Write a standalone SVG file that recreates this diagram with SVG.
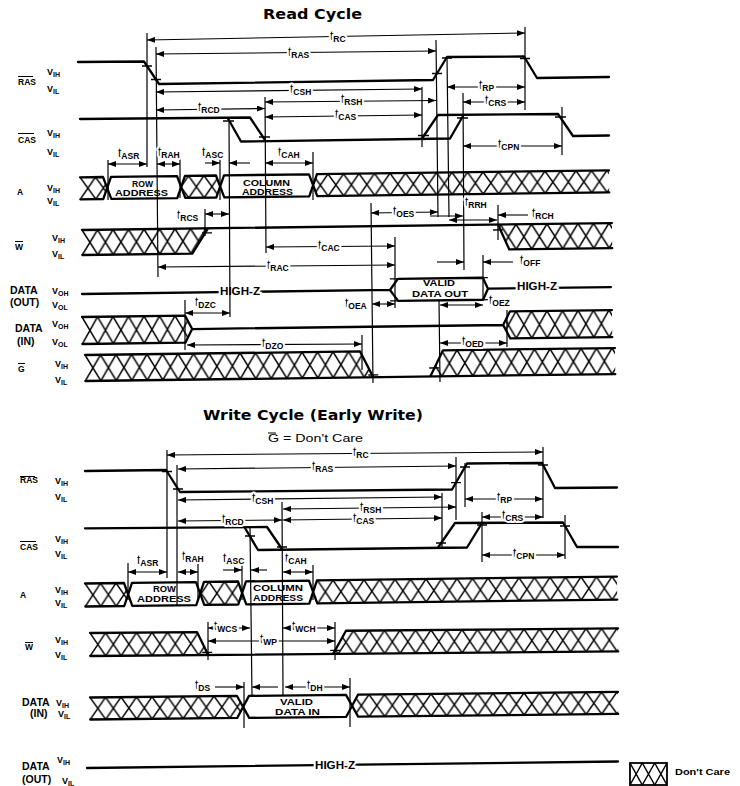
<svg xmlns="http://www.w3.org/2000/svg" width="740" height="786" viewBox="0 0 740 786">
<defs>
<style>
text{font-family:"Liberation Sans",Arial,Helvetica,sans-serif;fill:#000}
.wf{fill:none;stroke:#000;stroke-width:2.3;stroke-linejoin:round;stroke-linecap:round}
.vl{fill:none;stroke:#000;stroke-width:1.2}
.db{fill:none;stroke:#000;stroke-width:1.1;marker-start:url(#ah);marker-end:url(#ah)}
.da{fill:none;stroke:#000;stroke-width:1.1;marker-end:url(#ah)}
.tk{fill:none;stroke:#000;stroke-width:1.3}
.ol{stroke:#000;stroke-width:1}
.sig{font-weight:bold;font-size:8.5px}
.dat{font-weight:bold;font-size:10.5px}
.v{font-weight:bold;font-size:9px}
.v tspan{font-size:7px}
.t{font-size:12px;stroke:#fff;stroke-width:4;stroke-linejoin:round;paint-order:stroke}
.t tspan{font-weight:bold;font-size:8.5px}
.bx{font-weight:bold;font-size:9px}
.hz{font-weight:bold;font-size:11px;stroke:#fff;stroke-width:4;paint-order:stroke}
.ttl{font-family:"DejaVu Sans","Liberation Sans",sans-serif;font-weight:bold;font-size:14px}
</style>
<marker id="ah" viewBox="0 0 8 6" refX="8" refY="3" markerWidth="8" markerHeight="6" markerUnits="userSpaceOnUse" orient="auto-start-reverse"><path d="M0,0L8,3L0,6z"/></marker>
<pattern id="x22" width="15.5" height="22" patternUnits="userSpaceOnUse"><path d="M0,0L15.5,22M15.5,0L0,22" stroke="#000" stroke-width="1.5" fill="none"/></pattern>
<pattern id="x23" width="15.5" height="23" patternUnits="userSpaceOnUse"><path d="M0,0L15.5,23M15.5,0L0,23" stroke="#000" stroke-width="1.5" fill="none"/></pattern>
<pattern id="x25" width="15.5" height="25" patternUnits="userSpaceOnUse"><path d="M0,0L15.5,25M15.5,0L0,25" stroke="#000" stroke-width="1.5" fill="none"/></pattern>
<pattern id="x26" width="15.5" height="26" patternUnits="userSpaceOnUse"><path d="M0,0L15.5,26M15.5,0L0,26" stroke="#000" stroke-width="1.5" fill="none"/></pattern>
<pattern id="x27" width="15.5" height="27" patternUnits="userSpaceOnUse"><path d="M0,0L15.5,27M15.5,0L0,27" stroke="#000" stroke-width="1.5" fill="none"/></pattern>
</defs>
<rect width="740" height="786" fill="#fff"/>

<!-- ================= READ CYCLE ================= -->
<text class="ttl" x="263" y="19" textLength="99" lengthAdjust="spacingAndGlyphs">Read Cycle</text>

<g id="r-labels">
<text class="sig" x="18" y="85">RAS</text><path class="ol" d="M18,76.5H33"/>
<text class="v" x="47" y="75">V<tspan dy="2">IH</tspan></text>
<text class="v" x="47" y="92">V<tspan dy="2">IL</tspan></text>
<text class="sig" x="18" y="143">CAS</text><path class="ol" d="M18,133.5H34"/>
<text class="v" x="47" y="136">V<tspan dy="2">IH</tspan></text>
<text class="v" x="47" y="155">V<tspan dy="2">IL</tspan></text>
<text class="sig" x="17" y="195">A</text>
<text class="v" x="47" y="191">V<tspan dy="2">IH</tspan></text>
<text class="v" x="47" y="204">V<tspan dy="2">IL</tspan></text>
<text class="sig" x="15" y="250">W</text><path class="ol" d="M15,241.5H23"/>
<text class="v" x="52" y="241">V<tspan dy="2">IH</tspan></text>
<text class="v" x="52" y="257">V<tspan dy="2">IL</tspan></text>
<text class="dat" x="10" y="294">DATA</text>
<text class="dat" x="10" y="306">(OUT)</text>
<text class="v" x="52" y="294">V<tspan dy="2">OH</tspan></text>
<text class="v" x="52" y="308">V<tspan dy="2">OL</tspan></text>
<text class="dat" x="15" y="332">DATA</text>
<text class="dat" x="17" y="345">(IN)</text>
<text class="v" x="52" y="327">V<tspan dy="2">OH</tspan></text>
<text class="v" x="52" y="345">V<tspan dy="2">OL</tspan></text>
<text class="sig" x="18" y="372">G</text><path class="ol" d="M18,363.5H25"/>
<text class="v" x="55" y="367">V<tspan dy="2">IH</tspan></text>
<text class="v" x="55" y="383">V<tspan dy="2">IL</tspan></text>
</g>

<g id="r-RAS">
<path class="wf" d="M78,62 L144,61.5 L159,84 L433,80 L447,57 L524,56.5 L537,78 L609,77"/>
<path class="tk" d="M142,66h10M151,79.5h10M432,73.5h10M442,58h10M520,58.5h10"/>
</g>

<g id="r-CAS">
<path class="wf" d="M80,119 L250,117.5 L265,140"/>
<path class="wf" d="M228,118.5 L241,141.5 L450,138.5 L463,116"/>
<path class="wf" d="M422,138.5 L438,115 L558,114 L573,136 L609,135.5"/>
<path class="tk" d="M223,121h11M259,137h11M418,135.5h11M457,118h11M555,117h11"/>
</g>

<g id="r-A">
<g transform="translate(80,177.3) rotate(-0.75)">
<path fill="url(#x22)" d="M0,0L23,0L27,11L23,22L0,22Z M101,11L105,0L136,0L140,11L136,22L105,22Z M233,11L237,0L529,0L529,22L237,22Z"/>
<path class="wf" d="M0,0 23,0 31,22 97,22 105,0 136,0 144,22 229,22 237,0 529,0"/>
<path class="wf" d="M0,22 23,22 31,0 97,0 105,22 136,22 144,0 229,0 237,22 529,22"/>
</g>
<text class="bx" x="132" y="187" textLength="21" lengthAdjust="spacingAndGlyphs">ROW</text>
<text class="bx" x="115" y="196" textLength="53" lengthAdjust="spacingAndGlyphs">ADDRESS</text>
<text class="bx" x="243" y="186" textLength="47" lengthAdjust="spacingAndGlyphs">COLUMN</text>
<text class="bx" x="242" y="195" textLength="51" lengthAdjust="spacingAndGlyphs">ADDRESS</text>
</g>

<g id="r-W">
<g transform="translate(82,230) rotate(-0.75)">
<path fill="url(#x25)" d="M0,0L126,0L110,25L0,25Z M416,0L530,0L530,25L427,25Z"/>
<path class="wf" d="M0,0L530,0 M0,25L110,25L126,0 M416,0L427,25L530,25"/>
<path class="tk" d="M120,4.5h10M411,5.4h10"/>
</g>
</g>

<g id="r-DOUT">
<g transform="translate(82,294) rotate(-0.75)">
<path class="wf" d="M0,0L308,0L316,-11L401,-11L406,0L529,0 M308,0L316,11L401,11L406,0"/>
<path class="tk" d="M308,-11h10M308,11h10M396,-11h10M396,11h10"/>
</g>
<text class="hz" x="220" y="295" textLength="40" lengthAdjust="spacingAndGlyphs">HIGH-Z</text>
<text class="hz" x="517" y="290" textLength="40" lengthAdjust="spacingAndGlyphs">HIGH-Z</text>
<text class="bx" x="423" y="286" textLength="32" lengthAdjust="spacingAndGlyphs">VALID</text>
<text class="bx" x="412" y="297" textLength="56" lengthAdjust="spacingAndGlyphs">DATA OUT</text>
</g>

<g id="r-DIN">
<g transform="translate(82,317) rotate(-0.75)">
<path fill="url(#x27)" d="M0,0L103,0L110,13.5L103,27L0,27Z M421,13.5L428,0L530,0L530,27L428,27Z"/>
<path class="wf" d="M0,0L103,0L110,13.5L103,27L0,27 M110,13.5L421,13.5 M530,0L428,0L421,13.5L428,27L530,27"/>
</g>
</g>

<g id="r-G">
<g transform="translate(85,355) rotate(-0.75)">
<path fill="url(#x26)" d="M0,0L275,0L288,26L0,26Z M345,26L358,0L530,0L530,26Z"/>
<path class="wf" d="M0,0L275,0L288,26 M0,26L530,26 M345,26L358,0L530,0"/>
<path class="tk" d="M283,23.7h10M344,17.5h10"/>
</g>
</g>

<g id="r-timings">
<path class="vl" d="M147,33V167 M156,47L158,277 M108,160V200 M180,153V198 M220,158V200 M229,120L230,317 M265,97L266,253 M313,152V200 M422,87V147 M436,40L438,217 M447,57L449,217 M463,93L464,270 M498,205V240 M525,27V110 M562,107V155 M205,209V236 M371,203L373,383 M395,237V308 M439,300L440,382 M483,255V300 M185,300V350 M362,335V370 M507,310V347"/>
<path class="db" d="M147,40L525,33"/>
<path class="db" d="M156,54L436,51"/>
<path class="db" d="M156,92L422,89"/>
<path class="db" d="M265,102L436,100.5"/>
<path class="db" d="M265,117L422,115"/>
<path class="db" d="M156,110L265,108.5"/>
<path class="db" d="M447,87L525,87"/>
<path class="db" d="M463,102L525,102"/>
<path class="db" d="M463,146L562,146"/>
<path class="db" d="M108,164L147,164"/>
<path class="db" d="M157,164L180,164"/>
<path class="da" d="M205,163L220,163"/>
<path class="da" d="M250,163L229,163"/>
<path class="db" d="M265,163L313,163"/>
<path class="db" d="M205,214L229,214"/>
<path class="db" d="M266,247L395,246"/>
<path class="db" d="M158,267L395,265"/>
<path class="db" d="M371,213L438,212"/>
<path class="db" d="M449,220L497,220"/>
<path class="da" d="M430,216L463,216"/>
<path class="da" d="M528,215L498,215"/>
<path class="da" d="M437,262L464,262"/>
<path class="da" d="M513,262L483,262"/>
<path class="db" d="M372,304L395,304"/>
<path class="db" d="M440,305L483,305"/>
<path class="db" d="M440,343L507,343"/>
<path class="db" d="M185,313L230,313"/>
<path class="db" d="M187,345L362,344"/>
<text class="t" x="330" y="40">t<tspan dy="2">RC</tspan></text>
<text class="t" x="288" y="56">t<tspan dy="2">RAS</tspan></text>
<text class="t" x="290" y="93">t<tspan dy="2">CSH</tspan></text>
<text class="t" x="341" y="103">t<tspan dy="2">RSH</tspan></text>
<text class="t" x="335" y="118">t<tspan dy="2">CAS</tspan></text>
<text class="t" x="198" y="111">t<tspan dy="2">RCD</tspan></text>
<text class="t" x="479" y="89">t<tspan dy="2">RP</tspan></text>
<text class="t" x="485" y="104">t<tspan dy="2">CRS</tspan></text>
<text class="t" x="498" y="148">t<tspan dy="2">CPN</tspan></text>
<text class="t" x="118" y="157">t<tspan dy="2">ASR</tspan></text>
<text class="t" x="158" y="156">t<tspan dy="2">RAH</tspan></text>
<text class="t" x="202" y="156">t<tspan dy="2">ASC</tspan></text>
<text class="t" x="278" y="156">t<tspan dy="2">CAH</tspan></text>
<text class="t" x="177" y="219">t<tspan dy="2">RCS</tspan></text>
<text class="t" x="318" y="249">t<tspan dy="2">CAC</tspan></text>
<text class="t" x="267" y="269">t<tspan dy="2">RAC</tspan></text>
<text class="t" x="393" y="215">t<tspan dy="2">OES</tspan></text>
<text class="t" x="465" y="206">t<tspan dy="2">RRH</tspan></text>
<text class="t" x="532" y="217">t<tspan dy="2">RCH</tspan></text>
<text class="t" x="520" y="264">t<tspan dy="2">OFF</tspan></text>
<text class="t" x="345" y="307">t<tspan dy="2">OEA</tspan></text>
<text class="t" x="489" y="304">t<tspan dy="2">OEZ</tspan></text>
<text class="t" x="462" y="345">t<tspan dy="2">OED</tspan></text>
<text class="t" x="195" y="306">t<tspan dy="2">DZC</tspan></text>
<text class="t" x="262" y="347">t<tspan dy="2">DZO</tspan></text>
</g>

<!-- ================= WRITE CYCLE ================= -->
<text class="ttl" x="203" y="420" textLength="220" lengthAdjust="spacingAndGlyphs">Write Cycle (Early Write)</text>
<text x="268" y="442" font-size="11" textLength="95" lengthAdjust="spacingAndGlyphs">G = Don't Care</text><path class="ol" d="M268,433H276"/>

<g id="w-labels">
<text class="sig" x="20" y="483">RAS</text><path class="ol" d="M20,476.5H35"/>
<text class="v" x="55" y="484">V<tspan dy="2">IH</tspan></text>
<text class="v" x="55" y="500">V<tspan dy="2">IL</tspan></text>
<text class="sig" x="20" y="550">CAS</text><path class="ol" d="M20,541.5H36"/>
<text class="v" x="55" y="542">V<tspan dy="2">IH</tspan></text>
<text class="v" x="55" y="557">V<tspan dy="2">IL</tspan></text>
<text class="sig" x="20" y="598">A</text>
<text class="v" x="55" y="593">V<tspan dy="2">IH</tspan></text>
<text class="v" x="55" y="606">V<tspan dy="2">IL</tspan></text>
<text class="sig" x="25" y="650">W</text><path class="ol" d="M25,642.5H33"/>
<text class="v" x="55" y="643">V<tspan dy="2">IH</tspan></text>
<text class="v" x="55" y="658">V<tspan dy="2">IL</tspan></text>
<text class="dat" x="22" y="706">DATA</text>
<text class="v" x="56" y="706">V<tspan dy="2">IH</tspan></text>
<text class="dat" x="30" y="717">(IN)</text>
<text class="v" x="58" y="717">V<tspan dy="2">IL</tspan></text>
<text class="dat" x="22" y="770">DATA</text>
<text class="v" x="57" y="763">V<tspan dy="2">IH</tspan></text>
<text class="dat" x="22" y="783">(OUT)</text>
<text class="v" x="62" y="784">V<tspan dy="2">IL</tspan></text>
</g>

<g id="w-RAS">
<path class="wf" d="M85,471 L166,470 L180,492 L452,489.5 L467,463.5 L542,463 L555,488 L617,487.5"/>
<path class="tk" d="M162,471.5h10M173,489h10M451,482.6h10M460,467h10M538,465h10"/>
</g>

<g id="w-CAS">
<path class="wf" d="M85,528.3 L267,527 L282,549"/>
<path class="wf" d="M245,528 L258,550 L467,547.5 L482,523"/>
<path class="wf" d="M438,547.5 L455,523 L563,522.5 L577,547 L618,547"/>
<path class="tk" d="M245,536h10M277,547h10M436,543h10M477,525h10M560,526h10"/>
</g>

<g id="w-A">
<g transform="translate(85,583.5) rotate(-0.75)">
<path fill="url(#x23)" d="M0,0L39,0L43,11.5L39,23L0,23Z M115,11.5L119,0L153,0L157,11.5L153,23L119,23Z M228,11.5L232,0L532,0L532,23L232,23Z"/>
<path class="wf" d="M0,0 39,0 47,23 111,23 119,0 153,0 161,23 224,23 232,0 532,0"/>
<path class="wf" d="M0,23 39,23 47,0 111,0 119,23 153,23 161,0 224,0 232,23 532,23"/>
</g>
<text class="bx" x="153" y="592" textLength="23" lengthAdjust="spacingAndGlyphs">ROW</text>
<text class="bx" x="137" y="602" textLength="54" lengthAdjust="spacingAndGlyphs">ADDRESS</text>
<text class="bx" x="253" y="591" textLength="50" lengthAdjust="spacingAndGlyphs">COLUMN</text>
<text class="bx" x="253" y="601" textLength="50" lengthAdjust="spacingAndGlyphs">ADDRESS</text>
</g>

<g id="w-W">
<g transform="translate(90,633) rotate(-0.5)">
<path fill="url(#x23)" d="M0,0L107,0L118,23L0,23Z M243,23L256,0L528,0L528,23Z"/>
<path class="wf" d="M0,0L107,0L118,23 M0,23L528,23 M243,23L256,0L528,0"/>
<path class="tk" d="M112,20.5h10M240,19.5h10"/>
</g>
</g>

<g id="w-DIN">
<g transform="translate(90,697.5) rotate(-0.6)">
<path fill="url(#x22)" d="M0,0L147,0L153,11L147,22L0,22Z M262,11L268,0L528,0L528,22L268,22Z"/>
<path class="wf" d="M0,0 147,0 159,22 256,22 268,0 528,0"/>
<path class="wf" d="M0,22 147,22 159,0 256,0 268,22 528,22"/>
</g>
<text class="bx" x="280" y="705" textLength="33" lengthAdjust="spacingAndGlyphs">VALID</text>
<text class="bx" x="275" y="715" textLength="45" lengthAdjust="spacingAndGlyphs">DATA IN</text>
</g>

<g id="w-DOUT">
<path class="wf" d="M87,768 L618,761.5"/>
<text class="hz" x="315" y="769" textLength="40" lengthAdjust="spacingAndGlyphs">HIGH-Z</text>
</g>

<g id="w-timings">
<path class="vl" d="M167,450V578 M177,465V605 M128,563V600 M198,563V600 M242,563V600 M250,528L252,697 M282,502L283,695 M313,565V600 M442,493V547 M456,457V520 M465,463V507 M482,512V562 M543,447V518 M565,515V559 M208,622V660 M335,622V660 M244,682V728 M350,678V727"/>
<path class="db" d="M167,455L543,452"/>
<path class="db" d="M178,469L456,466"/>
<path class="db" d="M178,500L442,497"/>
<path class="db" d="M283,509L456,507"/>
<path class="db" d="M283,520L442,518"/>
<path class="db" d="M178,521L282,520"/>
<path class="db" d="M465,499L543,499"/>
<path class="db" d="M482,517L543,517"/>
<path class="db" d="M482,555L565,555"/>
<path class="db" d="M128,572L167,572"/>
<path class="db" d="M178,572L198,572"/>
<path class="da" d="M223,570L242,570"/>
<path class="da" d="M267,570L251,570"/>
<path class="db" d="M283,572L313,572"/>
<path class="db" d="M208,628L250,628"/>
<path class="db" d="M208,641L335,641"/>
<path class="db" d="M283,628L335,628"/>
<path class="da" d="M215,687L244,687"/>
<path class="da" d="M278,687L252,687"/>
<path class="db" d="M285,687L350,687"/>
<text class="t" x="353" y="456">t<tspan dy="2">RC</tspan></text>
<text class="t" x="312" y="470">t<tspan dy="2">RAS</tspan></text>
<text class="t" x="252" y="502">t<tspan dy="2">CSH</tspan></text>
<text class="t" x="360" y="511">t<tspan dy="2">RSH</tspan></text>
<text class="t" x="353" y="522">t<tspan dy="2">CAS</tspan></text>
<text class="t" x="222" y="523">t<tspan dy="2">RCD</tspan></text>
<text class="t" x="497" y="501">t<tspan dy="2">RP</tspan></text>
<text class="t" x="502" y="519">t<tspan dy="2">CRS</tspan></text>
<text class="t" x="513" y="557">t<tspan dy="2">CPN</tspan></text>
<text class="t" x="137" y="564">t<tspan dy="2">ASR</tspan></text>
<text class="t" x="182" y="560">t<tspan dy="2">RAH</tspan></text>
<text class="t" x="223" y="562">t<tspan dy="2">ASC</tspan></text>
<text class="t" x="285" y="562">t<tspan dy="2">CAH</tspan></text>
<text class="t" x="214" y="630">t<tspan dy="2">WCS</tspan></text>
<text class="t" x="260" y="643">t<tspan dy="2">WP</tspan></text>
<text class="t" x="292" y="630">t<tspan dy="2">WCH</tspan></text>
<text class="t" x="195" y="689">t<tspan dy="2">DS</tspan></text>
<text class="t" x="307" y="689">t<tspan dy="2">DH</tspan></text>
</g>

<g id="legend">
<rect x="630" y="763" width="37" height="22" fill="none" stroke="#000" stroke-width="1.8"/>
<path d="M630,763L642.3,785M642.3,763L630,785M642.3,763L654.7,785M654.7,763L642.3,785M654.7,763L667,785M667,763L654.7,785" stroke="#000" stroke-width="1.5" fill="none"/>
<text x="675" y="775" font-size="9" font-weight="bold" textLength="55" lengthAdjust="spacingAndGlyphs">Don't Care</text>
</g>
</svg>
